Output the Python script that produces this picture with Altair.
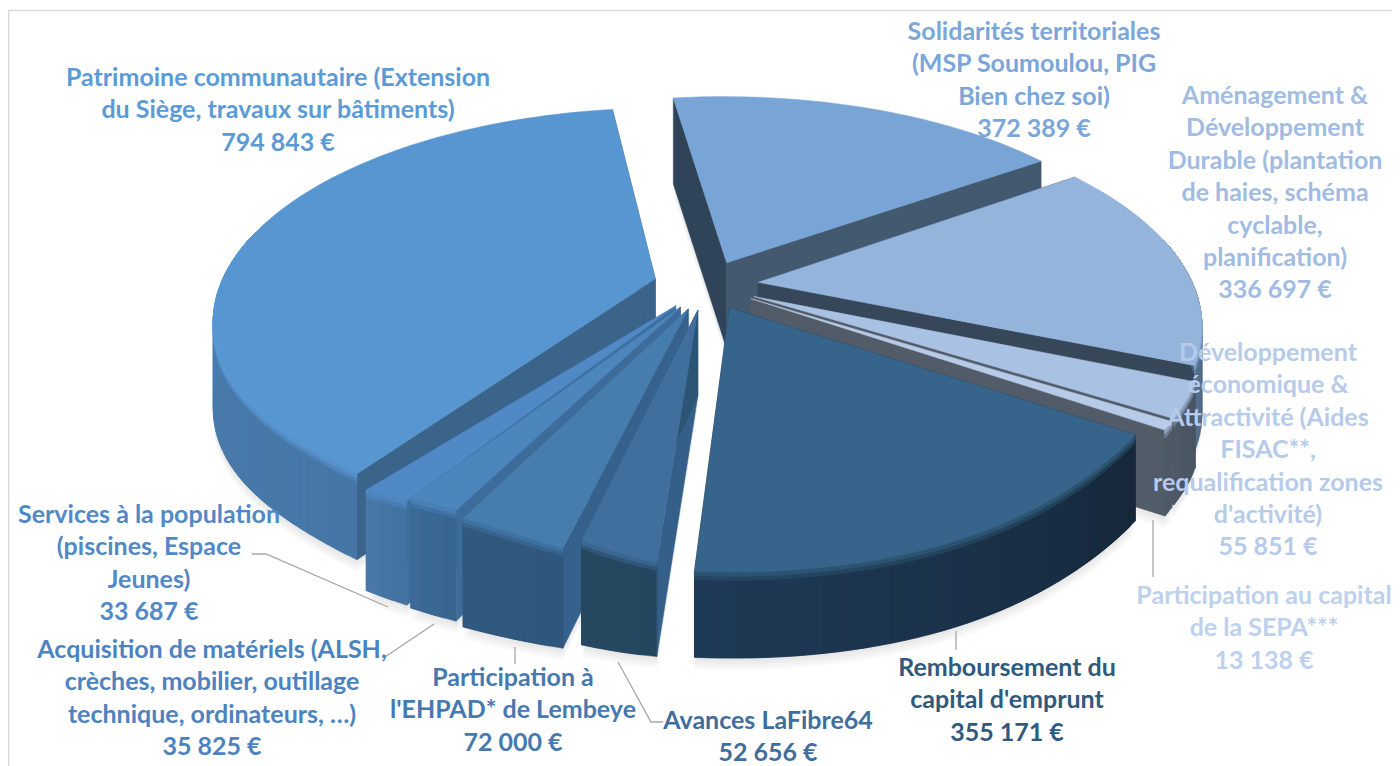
import math
import altair as alt

# ---- data ----
categories = ["Solidarités", "Aménagement", "Développement", "SEPA", "Remboursement",
              "LaFibre64", "EHPAD", "Acquisition", "Services", "Patrimoine"]
values = [372389, 336697, 55851, 13138, 355171, 52656, 72000, 35825, 33687, 794843]
label_lines = [
    ["Solidarités territoriales", "(MSP Soumoulou, PIG", "Bien chez soi)", "372 389 €"],
    ["Aménagement &", "Développement", "Durable (plantation", "de haies, schéma", "cyclable,", "planification)", "336 697 €"],
    ["Développement", "économique &", "Attractivité (Aides", "FISAC**,", "requalification zones", "d'activité)", "55 851 €"],
    ["Participation au capital", "de la SEPA***", "13 138 €"],
    ["Remboursement du", "capital d'emprunt", "355 171 €"],
    ["Avances LaFibre64", "52 656 €"],
    ["Participation à", "l'EHPAD* de Lembeye", "72 000 €"],
    ["Acquisition de matériels (ALSH,", "crèches, mobilier, outillage", "technique, ordinateurs, …)", "35 825 €"],
    ["Services à la population", "(piscines, Espace", "Jeunes)", "33 687 €"],
    ["Patrimoine communautaire (Extension", "du Siège, travaux sur bâtiments)", "794 843 €"],
]

# ---- styles ----
top_colors = ["#78a4d6", "#94b4dc", "#a9c1e3", "#b7cbe8", "#36648a",
              "#406f9e", "#467dad", "#4d85bd", "#5189c6", "#5896d2"]
bevel_from = ["#78a4d6", "#7f9cc0", "#8a9fbd", "#8fa2bc", "#2c5470",
              "#3a6690", "#3f72a0", "#4a7fb5", "#4f86c0", "#5590c8"]
bevel_to = ["#78a4d6", "#7f9cc0", "#8a9fbd", "#8fa2bc", "#2c5470",
            "#3a6690", "#3f72a0", "#4a7fb5", "#4f86c0", "#64aaec"]
rim_from = ["#42596f", "#3d4c5e", "#4a5563", "#4e5a68", "#16283a",
            "#24465f", "#2f567c", "#38648f", "#42709f", "#4676a6"]
rim_to = ["#42596f", "#55708f", "#4e5966", "#4e5a68", "#1f3a57",
          "#264860", "#31597f", "#3c6a97", "#4a79aa", "#4f87bc"]
wall_colors = ["#2f4459", "#37475a", "#525b68", "#525b68", "#1d3246",
               "#335f88", "#35618c", "#3d6c9a", "#3f6f9f", "#3a6489"]
end_wall_colors = ["#42596f", "#37475a", "#525b68", "#525b68", "#1d3246",
                   "#2c5475", "#35618c", "#3d6c9a", "#3f6f9f", "#3a6489"]
text_colors = ["#7ba6d9", "#a0bce2", "#b6cbe9", "#bdd0ec", "#2f5a7e",
               "#3f6e9e", "#4679b0", "#4c83bf", "#5189c6", "#5b9bd5"]
label_cx = [1034, 1275, 1268, 1264, 1007, 768, 513, 212, 149, 278]
label_top = [32, 96, 353, 596, 668, 721, 678, 650, 515, 78]
line_step = 32.4
font_name = "Lato"
font_size = 25

leaders = [
    [(252, 554), (266, 554), (388, 607)],
    [(385, 657), (434, 624)],
    [(515, 647), (515, 664)],
    [(618, 662), (651, 722), (663, 722)],
    [(1153, 520), (1153, 577)],
    [(956, 631), (956, 650)],
]

# ---- 3-D pie layout ----
CX, CY = 706, 285
A, B = 435, 205
K = 0.188
EXPLODE = 0.121
START = -8.0
DEPTH = 86
OFF = 8
# local rim corrections per slice: centre angle, width, x shrink, y shrink, extra depth
NONE = (207, 20, 0, 0, 0)
rim_shape = [NONE, NONE, NONE, NONE,
             (124, 25, 0.017, 0.045, 0),
             (207, 20, 0.10, 0.14, 30),
             (207, 20, 0.02, 0.09, 23),
             (207, 20, 0.024, 0.11, 25),
             (207, 20, 0.032, 0.09, 19),
             (207, 20, 0.08, -0.03, 0)]


def project(u, v, z=0):
    s = 1 / (1 + K * v)
    return [CX + A * u * s - OFF, CY - B * v * s + z - OFF]


def hex2rgb(h):
    return [int(h[i:i + 2], 16) for i in (1, 3, 5)]


def mix(a, b, t):
    ra, rb = hex2rgb(a), hex2rgb(b)
    return "#%02x%02x%02x" % tuple(round(x + (y - x) * t) for x, y in zip(ra, rb))


def feature(points, fill):
    ring = points + [points[0]]
    return {"type": "Feature", "properties": {"fill": fill},
            "geometry": {"type": "Polygon", "coordinates": [ring]}}


total = sum(values)
slices = []
angle = START
for val in values:
    sweep = 360 * val / total
    slices.append((angle, angle + sweep))
    angle += sweep

shadow, shapes = [], []
draw_order = [9, 0, 1, 2, 3, 8, 7, 6, 5, 4]
for i in draw_order:
    a0, a1 = slices[i]
    mid = math.radians((a0 + a1) / 2)
    ou, ov = EXPLODE * math.sin(mid), EXPLODE * math.cos(mid)
    n = max(2, int((a1 - a0) / 1.5))
    degs = [a0 + (a1 - a0) * j / n for j in range(n + 1)]
    at, width, fx, fy, extra = rim_shape[i]
    edge, depth = [], []
    for d in degs:
        g = math.exp(-(((d - at) / width) ** 2))
        t = math.radians(d)
        edge.append((ou + (1 - fx * g) * math.sin(t), ov + (1 - fy * g) * math.cos(t)))
        depth.append(DEPTH + extra * g)

    for off in (3, 6, 9, 12, 15, 18):
        shadow.append(feature([project(ou, ov, DEPTH + off - 6)] +
                              [project(u, v, dp + off - 6) for (u, v), dp in zip(edge, depth)], "#000000"))

    # cut walls
    for (u, v), dp, col in ((edge[0], depth[0], wall_colors[i]), (edge[-1], depth[-1], end_wall_colors[i])):
        shapes.append(feature([project(ou, ov), project(u, v), project(u, v, dp), project(ou, ov, DEPTH)], col))

    visible = [j for j in range(n)
               if not (math.cos(math.radians(degs[j])) > 0.2 and math.cos(math.radians(degs[j + 1])) > 0.2)]
    # outer rim: each strip overlaps the next one so no seam shows
    for j in visible:
        col = mix(rim_from[i], rim_to[i], (j + 0.5) / n)
        tip = min(j + 2, n)
        body = [project(u, v) for u, v in edge[j:tip + 1]] + \
               [project(*edge[q], depth[q]) for q in range(tip, j - 1, -1)]
        shapes.append(feature(body, col))
    # bevel between rim and top: two soft steps
    for z, weight in ((8, 0.5), (4, 0.0)):
        for j in visible:
            tip = min(j + 2, n)
            arc = edge[j:tip + 1]
            t = (j + 0.5) / n
            rim = mix(rim_from[i], rim_to[i], t)
            bev = mix(bevel_from[i], bevel_to[i], min(1, t * 1.6))
            body = [project(u, v) for u, v in arc] + [project(u, v, z) for u, v in reversed(arc)]
            shapes.append(feature(body, mix(bev, rim, weight)))
    # top face
    shapes.append(feature([project(ou, ov)] + [project(u, v) for u, v in edge], top_colors[i]))

projection = alt.Projection(type="identity", scale=1, translate=[0, 0])
shadow_layer = alt.Chart(alt.InlineData(values=shadow, format=alt.DataFormat(type="json"))).mark_geoshape(
    fillOpacity=0.022, stroke=None, fill="#000000").project(**projection.to_dict())
pie_layer = alt.Chart(alt.InlineData(values=shapes, format=alt.DataFormat(type="json"))).mark_geoshape(
    strokeWidth=0.5).encode(
    fill=alt.Fill("properties.fill:N", scale=None, legend=None),
    stroke=alt.Stroke("properties.fill:N", scale=None, legend=None),
).project(**projection.to_dict())

label_rows = []
for i, lines in enumerate(label_lines):
    for j, line in enumerate(lines):
        label_rows.append({"t": line, "x": label_cx[i] - OFF, "y": label_top[i] + j * line_step - OFF,
                           "c": text_colors[i]})
text_layer = alt.Chart(alt.Data(values=label_rows)).mark_text(
    font=font_name, fontSize=font_size, fontWeight="bold", align="center", baseline="middle").encode(
    x=alt.X("x:Q", scale=None), y=alt.Y("y:Q", scale=None),
    text="t:N", color=alt.Color("c:N", scale=None, legend=None))

leader_rows = []
for k, pts in enumerate(leaders):
    for o, (x, y) in enumerate(pts):
        leader_rows.append({"id": k, "o": o, "x": x - OFF, "y": y - OFF})
leader_layer = alt.Chart(alt.Data(values=leader_rows)).mark_line(color="#a6a6a6", strokeWidth=1.3).encode(
    x=alt.X("x:Q", scale=None), y=alt.Y("y:Q", scale=None), detail="id:N", order="o:Q")

frame_rows = [{"id": 0, "o": 0, "x": 0.5, "y": 800}, {"id": 0, "o": 1, "x": 0.5, "y": 2.5},
              {"id": 0, "o": 2, "x": 1400, "y": 2.5}]
frame_layer = alt.Chart(alt.Data(values=frame_rows)).mark_line(color="#d9d9d9", strokeWidth=1.6).encode(
    x=alt.X("x:Q", scale=None), y=alt.Y("y:Q", scale=None), detail="id:N", order="o:Q")

chart = alt.layer(
    frame_layer, shadow_layer, pie_layer, leader_layer, text_layer
).properties(width=1384, height=758, padding=0, autosize=alt.AutoSizeParams(type="none"), background="white"
).configure_view(stroke=None)

chart.save("out.html", embed_options={"renderer": "svg", "actions": False})
